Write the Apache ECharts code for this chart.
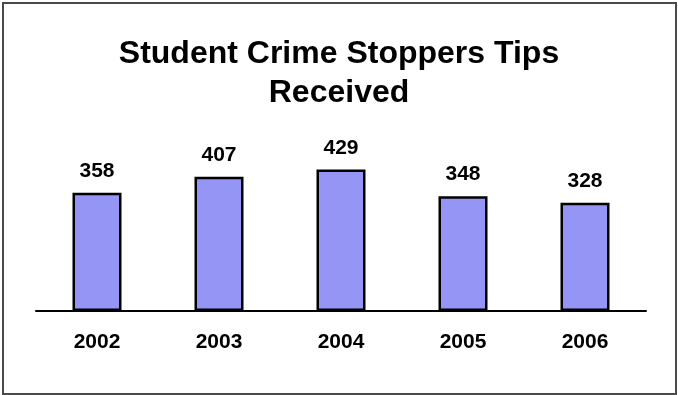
<!DOCTYPE html>
<html>
<head>
<meta charset="utf-8">
<script src="https://cdn.jsdelivr.net/npm/echarts@6/dist/echarts.min.js"></script>
<style>
html,body{margin:0;padding:0;background:#fff;}
#chart{width:678px;height:395px;}
</style>
</head>
<body>
<div id="chart"></div>
<script>
var titleText = 'Student Crime Stoppers Tips\nReceived';
var categories = ['2002', '2003', '2004', '2005', '2006'];
var tipsReceived = [358, 407, 429, 348, 328];

var chart = echarts.init(document.getElementById('chart'), null, {renderer: 'canvas'});
var font = '"Liberation Sans", Arial, Helvetica, sans-serif';
chart.setOption({
  animation: false,
  backgroundColor: '#ffffff',
  title: {
    text: titleText,
    left: 'center',
    top: 30,
    textStyle: {
      fontFamily: font,
      fontWeight: 'bold',
      fontSize: 32,
      lineHeight: 39,
      color: '#000'
    }
  },
  graphic: [{
    type: 'rect',
    shape: {x: 3, y: 3, width: 673, height: 391},
    style: {fill: null, stroke: '#4a4a4a', lineWidth: 2},
    silent: true
  }],
  grid: {left: 36, right: 32, top: 146, bottom: 84},
  xAxis: {
    type: 'category',
    data: categories,
    axisLine: {show: true, lineStyle: {color: '#000', width: 2}},
    axisTick: {show: false},
    axisLabel: {
      margin: 21,
      fontFamily: font,
      fontWeight: 'bold',
      fontSize: 21,
      color: '#000'
    }
  },
  yAxis: {
    type: 'value',
    min: 0,
    max: 500,
    show: false,
    splitLine: {show: false}
  },
  series: [{
    type: 'bar',
    data: tipsReceived,
    barWidth: 49,
    itemStyle: {
      color: '#9595f5',
      borderColor: '#000',
      borderWidth: 2.5
    },
    label: {
      show: true,
      position: 'top',
      distance: 11,
      fontFamily: font,
      fontWeight: 'bold',
      fontSize: 21,
      color: '#000'
    }
  }]
});
</script>
</body>
</html>
